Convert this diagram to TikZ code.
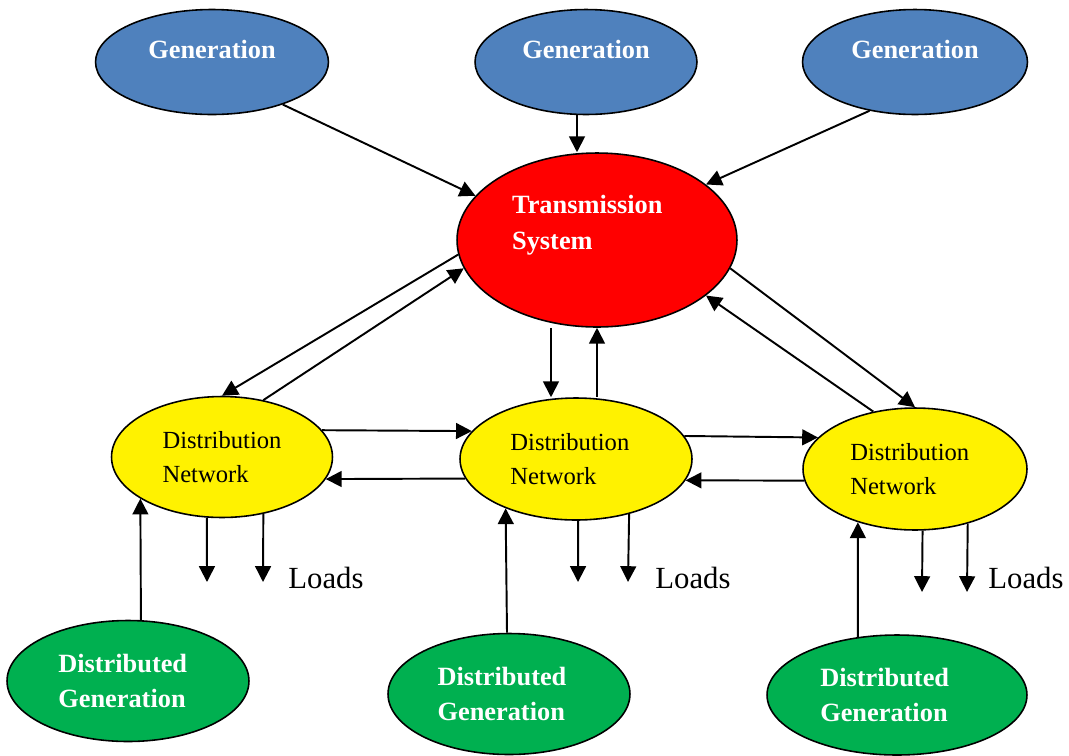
\documentclass[tikz,border=0pt]{standalone}
\usepackage{fontspec}
\setmainfont{Liberation Serif}
\usetikzlibrary{shapes.geometric,arrows.meta,calc}
\definecolor{genblue}{RGB}{79,129,189}
\definecolor{dggreen}{RGB}{0,176,80}
\tikzset{gen node/.style={ellipse,draw,line width=0.9pt,fill=genblue,text=white,font=\fontsize{15}{20.4}\selectfont\bfseries,minimum width=4.5cm,minimum height=2.1cm,inner sep=0pt,text height=10pt,text depth=14pt}}
\tikzset{trans node/.style={ellipse,draw,line width=0.9pt,fill=red,text=white,font=\fontsize{15}{20.4}\selectfont\bfseries,align=left,minimum width=5.6cm,minimum height=3.48cm,inner sep=0pt}}
\tikzset{dist node/.style={ellipse,draw,line width=0.9pt,fill=yellow,font=\fontsize{14}{19.8}\selectfont,align=left,minimum width=4.42cm,minimum height=2.42cm,inner sep=0pt}}
\tikzset{dg node/.style={ellipse,draw,line width=0.9pt,fill=dggreen,text=white,font=\fontsize{15}{20.4}\selectfont\bfseries,align=left,minimum width=4.84cm,minimum height=2.42cm,inner sep=0pt}}
\tikzset{load label/.style={anchor=base west,inner sep=0pt,font=\fontsize{17.5}{21}\selectfont}}
\tikzset{arr/.style={line width=1.1pt,-{Triangle[length=9pt,width=9pt]}}}

\begin{document}
\begin{tikzpicture}[x=0.02cm,y=-0.02cm]
            \useasboundingbox (0,0) rectangle (1069,755);

            \node[gen node, minimum width=4.66cm] (G1) at (212,62) {Generation};
            \node[gen node, minimum width=4.44cm] (G2) at (586,62) {Generation};
            \node[gen node] (G3) at (915,62) {Generation};
            \node[trans node] (T) at (597,240) {Transmission\hspace*{11pt}\\System\\\mbox{}};
            \node[dist node] (D1) at (222,457) {Distribution\\Network};
            \node[dist node, minimum width=4.64cm, minimum height=2.44cm] (D2) at (576,459) {Distribution\hspace*{7pt}\\Network};
            \node[dist node, minimum width=4.48cm, minimum height=2.44cm] (D3) at (915,469) {Distribution\hspace*{6pt}\\Network};
            \node[dg node] (DG1) at (128,681) {Distributed\hspace*{6pt}\\Generation};
            \node[dg node] (DG2) at (509,694) {Distributed\hspace*{8pt}\\Generation};
            \node[dg node, minimum width=5.2cm, minimum height=2.4cm] (DG3) at (897,695) {Distributed\hspace*{14pt}\\Generation};
            \node[load label] (L1) at (288,588) {Loads};
            \node[load label] (L2) at (655,588) {Loads};
            \node[load label] (L3) at (988,588) {Loads};

            % ends of the load arrows
            \coordinate (l1a) at (207,582);
            \coordinate (l1b) at (263,582);
            \coordinate (l2a) at (578,582);
            \coordinate (l2b) at (628,582);
            \coordinate (l3a) at (922,592);
            \coordinate (l3b) at (967,592);

            \path[arr]
            (G1.-31) edge (T.160)
            ($(G2.south)+(-9,0)$) edge ($(T.north)+(-20,0)$)
            (G3.227) edge (T.27)
            (T.186) edge (D1.north)
            (D1.54) edge (T.192)
            ($(T.south)+(-46,0)$) edge ($(D2.north)+(-25,0)$)
            ($(D2.north)+(21,0)$) edge (T.south)
            (T.-12) edge (D3.north)
            (D3.126) edge (T.-27)
            (D1.15) edge (D2.165)
            (D2.190) edge (D1.-12)
            (D2.12) edge (D3.162)
            (D3.186) edge (D2.-11)
            (DG1.78) edge (D1.207)
            ($(DG2.north)+(-2,0)$) edge (D2.215)
            (DG3.124) edge (D3.223)
            (D1.256) edge (l1a)
            (D1.306) edge (l1b)
            (D2.272) edge (l2a)
            (D2.314) edge (l2b)
            (D3.277) edge (l3a)
            (D3.314) edge (l3b);
        \end{tikzpicture}
\end{document}
